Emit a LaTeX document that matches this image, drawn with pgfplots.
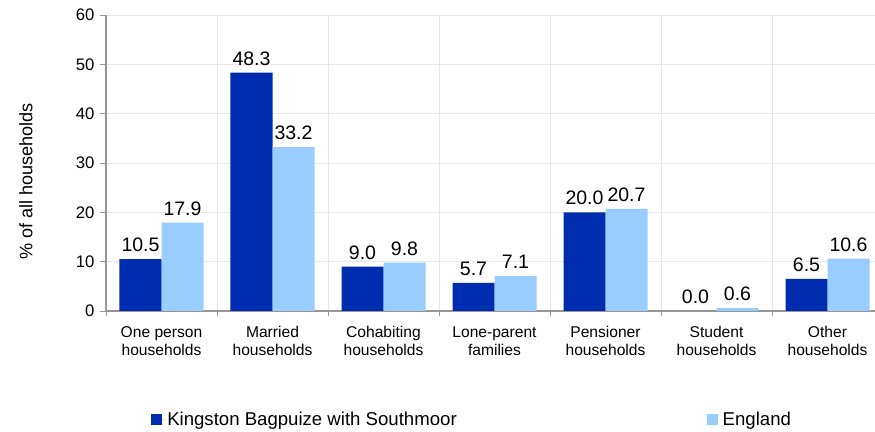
\documentclass[border=0pt]{standalone}
\usepackage{pgfplots}
\pgfplotsset{compat=1.18}
\usepackage{fontspec}
\setmainfont{Liberation Sans}
\definecolor{kbs}{RGB}{0,44,176}
\definecolor{eng}{RGB}{153,204,255}
\definecolor{gridc}{RGB}{232,232,232}
\definecolor{axc}{RGB}{150,150,150}
\begin{document}
\begin{tikzpicture}
\path[use as bounding box] (0,0) rectangle (875bp,432bp);
\begin{axis}[
  at={(106bp,121bp)}, anchor=south west,
  scale only axis, width=777bp, height=296bp,
  ybar=0pt, bar width=42bp,
  xmin=-0.5, xmax=6.5, ymin=0, ymax=60,
  ytick={0,10,...,60},
  xtick={0,...,6},
  xticklabels={One person\\households, Married\\households, Cohabiting\\households, Lone-parent\\families, Pensioner\\households, Student\\households, Other\\households},
  minor xtick={-0.5,0.5,...,6.5},
  xminorgrids=true, ymajorgrids=true,
  major grid style={gridc, line width=1pt},
  minor grid style={gridc, line width=1pt},
  axis lines*=left,
  axis line style={axc, line width=1.2pt, -},
  tick align=outside,
  x tick style={draw=none},
  minor x tick style={axc, line width=1pt, draw=axc},
  minor tick length=5bp,
  y tick style={axc, line width=1pt},
  major tick length=6bp,
  xticklabel style={align=center, font=\fontsize{15.6bp}{18bp}\selectfont, text=black, yshift=-6bp},
  yticklabel style={font=\fontsize{16.7bp}{18bp}\selectfont, xshift=-2bp},
  /pgf/number format/assume math mode=true,
  ylabel={\% of all households},
  ylabel style={font=\fontsize{18.1bp}{20bp}\selectfont, at={(axis description cs:-0.103,0.4375)}, anchor=center},
  nodes near coords,
  nodes near coords style={font=\fontsize{19.5bp}{20bp}\selectfont, inner sep=0pt, yshift=7bp, /pgf/number format/.cd, fixed, fixed zerofill, precision=1, assume math mode=true},
  legend columns=2,
  legend style={draw=none, fill=none, at={(axis description cs:0.058,-0.368)}, anchor=west, inner sep=0pt,
    font=\fontsize{18.6bp}{20bp}\selectfont, /tikz/every even column/.append style={column sep=248bp}},
  legend image code/.code={\fill[#1] (0bp,-5.5bp) rectangle (11bp,5.5bp); \path (0bp,0bp) -- (14bp,0bp);},
]
\addplot[fill=kbs, draw=none] coordinates {(0,10.5) (1,48.3) (2,9.0) (3,5.7) (4,20.0) (5,0.0) (6,6.5)};
\addplot[fill=eng, draw=none] coordinates {(0,17.9) (1,33.2) (2,9.8) (3,7.1) (4,20.7) (5,0.6) (6,10.6)};
\legend{Kingston Bagpuize with Southmoor, England}
\end{axis}
\end{tikzpicture}
\end{document}
